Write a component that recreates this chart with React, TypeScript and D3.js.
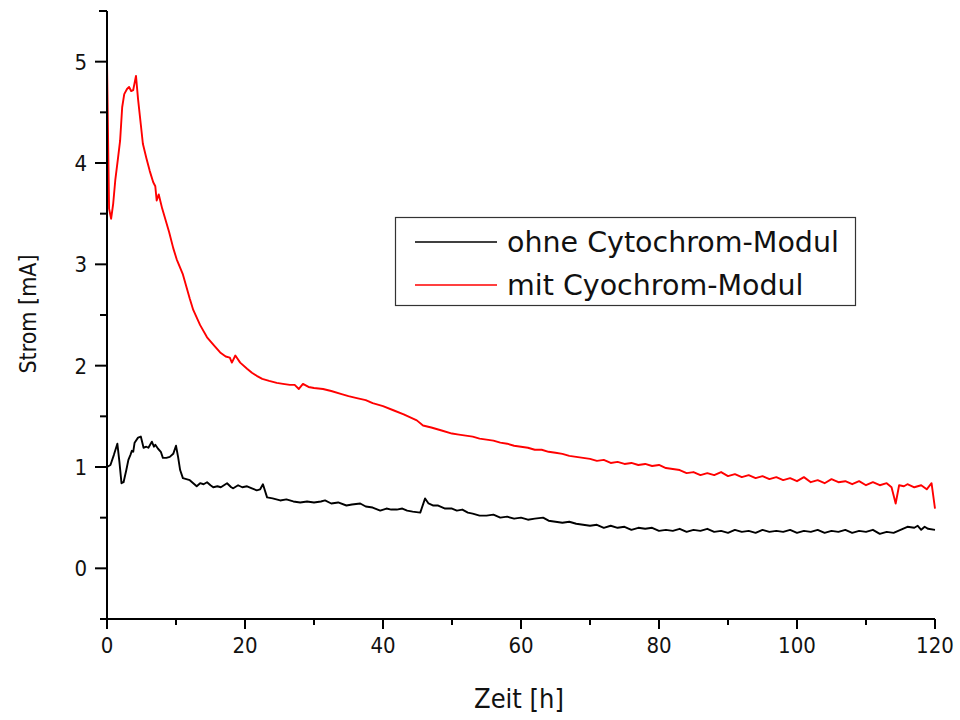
import React from "react";
import * as d3 from "d3";

const xTicks = [0, 20, 40, 60, 80, 100, 120];
const yTicks = [0, 1, 2, 3, 4, 5];
const seriesNames = ["ohne Cytochrom-Modul", "mit Cyochrom-Modul"];
const seriesColors = ["#000000", "#ff0000"];

const redT = [0, 0.3, 0.6, 0.9, 1.2, 1.6, 1.9, 2.2, 2.5, 2.9, 3.2, 3.5, 3.8, 4.2, 4.5, 4.9, 5.2, 5.7, 6.2, 6.7, 7.0, 7.2, 7.5, 8.0, 9.0, 9.6, 10.1, 11, 12, 12.5, 13.5, 14.5, 15.5, 16.4, 17.2, 17.8, 18.1, 18.6, 19.3, 20.3, 21, 21.7, 22.5, 23.5, 24.6, 25.5, 26.5, 27.2, 27.8, 28.4, 29.2, 30, 31.3, 32.5, 34, 35, 36.2, 37.5, 38.5, 40, 41.5, 43, 44.9, 45.8, 47, 48.5, 50, 51, 52, 53, 54, 55, 56, 57, 58, 59, 60, 61, 62, 63, 64, 65, 66, 67, 68, 69, 70, 71, 72, 73, 74, 75, 76, 77, 78, 79, 80, 81, 82, 83, 84, 85, 86, 87, 88, 89, 90, 91, 92, 93, 94, 95, 96, 97, 98, 99, 100, 101, 102, 103, 104, 105, 106, 107, 108, 109, 110, 111, 112, 113, 113.7, 114.3, 114.8, 115.5, 116, 117, 118, 118.8, 119.5, 120];
const redV = [5.0, 3.55, 3.45, 3.6, 3.83, 4.05, 4.22, 4.55, 4.68, 4.73, 4.75, 4.71, 4.72, 4.86, 4.63, 4.38, 4.19, 4.05, 3.92, 3.81, 3.77, 3.63, 3.69, 3.55, 3.32, 3.16, 3.05, 2.9, 2.66, 2.55, 2.4, 2.28, 2.2, 2.13, 2.09, 2.08, 2.03, 2.1, 2.03, 1.97, 1.93, 1.9, 1.87, 1.85, 1.83, 1.82, 1.81, 1.81, 1.77, 1.82, 1.79, 1.78, 1.77, 1.75, 1.72, 1.7, 1.68, 1.66, 1.63, 1.6, 1.56, 1.52, 1.46, 1.41, 1.39, 1.36, 1.33, 1.32, 1.31, 1.3, 1.28, 1.27, 1.26, 1.24, 1.23, 1.21, 1.2, 1.19, 1.17, 1.17, 1.15, 1.14, 1.13, 1.11, 1.1, 1.09, 1.08, 1.06, 1.07, 1.04, 1.05, 1.03, 1.04, 1.02, 1.03, 1.01, 1.02, 0.99, 0.98, 0.97, 0.94, 0.95, 0.92, 0.94, 0.92, 0.95, 0.91, 0.93, 0.9, 0.92, 0.89, 0.91, 0.88, 0.9, 0.87, 0.89, 0.86, 0.9, 0.85, 0.87, 0.84, 0.88, 0.85, 0.86, 0.83, 0.86, 0.82, 0.85, 0.82, 0.84, 0.8, 0.64, 0.82, 0.81, 0.83, 0.8, 0.82, 0.78, 0.84, 0.59];

const blackT = [0, 0.5, 1.0, 1.5, 1.8, 2.1, 2.4, 2.8, 3.1, 3.4, 3.6, 3.8, 4.0, 4.5, 4.9, 5.3, 5.7, 6.0, 6.5, 6.8, 7.0, 7.4, 7.8, 8.1, 8.6, 9.1, 9.6, 10.0, 10.3, 10.6, 11.0, 11.5, 12.0, 12.5, 13.0, 13.5, 14.0, 14.5, 15.0, 15.4, 16.0, 16.5, 17.4, 18.0, 18.3, 19.0, 19.6, 20.3, 21.0, 21.7, 22.2, 22.6, 23.2, 24, 25.1, 26, 27, 28, 29, 30, 31, 31.6, 32.5, 33.5, 34.7, 35.5, 36.7, 37.5, 38.5, 39.6, 40.5, 41.2, 42, 42.8, 43.5, 44.3, 45.4, 46.1, 46.6, 47.3, 48, 49, 50, 50.7, 51.5, 52.3, 53, 54, 55, 56, 57, 58, 59, 60, 61, 62, 63.2, 64, 65, 66, 67, 68, 69, 70, 71, 72, 73, 74, 75, 76, 77, 78, 79, 80, 81, 82, 83, 84, 85, 86, 87, 88, 89, 90, 91, 92, 93, 94, 95, 96, 97, 98, 99, 100, 101, 102, 103, 104, 105, 106, 107, 108, 109, 110, 111, 112, 113, 114, 115, 116, 117, 117.5, 118, 118.5, 119, 120];
const blackV = [1.0, 1.02, 1.12, 1.23, 1.05, 0.84, 0.85, 0.97, 1.07, 1.12, 1.16, 1.15, 1.24, 1.29, 1.3, 1.19, 1.2, 1.19, 1.25, 1.2, 1.22, 1.18, 1.15, 1.09, 1.09, 1.1, 1.13, 1.21, 1.1, 0.97, 0.89, 0.88, 0.87, 0.84, 0.81, 0.84, 0.83, 0.85, 0.82, 0.8, 0.81, 0.8, 0.84, 0.8, 0.79, 0.82, 0.8, 0.81, 0.79, 0.77, 0.78, 0.83, 0.7, 0.69, 0.67, 0.68, 0.66, 0.65, 0.66, 0.65, 0.66, 0.67, 0.64, 0.65, 0.62, 0.63, 0.64, 0.61, 0.6, 0.57, 0.59, 0.58, 0.58, 0.59, 0.57, 0.56, 0.55, 0.69, 0.64, 0.62, 0.62, 0.59, 0.59, 0.57, 0.58, 0.55, 0.54, 0.52, 0.52, 0.53, 0.5, 0.51, 0.49, 0.5, 0.48, 0.49, 0.5, 0.47, 0.46, 0.45, 0.46, 0.44, 0.43, 0.42, 0.43, 0.4, 0.42, 0.4, 0.41, 0.38, 0.4, 0.39, 0.4, 0.37, 0.38, 0.37, 0.39, 0.36, 0.38, 0.37, 0.39, 0.36, 0.37, 0.35, 0.38, 0.36, 0.37, 0.35, 0.38, 0.36, 0.37, 0.36, 0.38, 0.35, 0.37, 0.36, 0.38, 0.35, 0.37, 0.36, 0.38, 0.35, 0.37, 0.36, 0.38, 0.34, 0.36, 0.35, 0.38, 0.41, 0.4, 0.42, 0.38, 0.41, 0.39, 0.38];

const FONT = "'DejaVu Sans Condensed', 'DejaVu Sans', sans-serif";
const FONT_WIDE = "'DejaVu Sans', sans-serif";

export default function App() {
  const x = d3.scaleLinear().domain([0, 120]).range([107, 935]);
  const y = d3.scaleLinear().domain([-0.5, 5.5]).range([619, 11]);
  const line = d3
    .line<[number, number]>()
    .x((d) => x(d[0]))
    .y((d) => y(d[1]));
  const black: [number, number][] = blackT.map((t, i) => [t, blackV[i]]);
  const red: [number, number][] = redT.map((t, i) => [t, redV[i]]);
  const minorX = d3.range(0, 121, 10).filter((v) => v % 20 !== 0);
  const minorY = d3.range(-0.5, 5.51, 0.5).filter((v) => Math.abs(v - Math.round(v)) > 0.1);
  const x0 = x(0);
  const yb = y(-0.5);

  return (
    <svg
      width={960}
      height={720}
      style={{ position: "absolute", left: 0, top: 0, background: "#fff" }}
      fontFamily={FONT}
    >
      <rect width={960} height={720} fill="#fff" />
      {/* data */}
      <path d={line(black) || ""} fill="none" stroke={seriesColors[0]} strokeWidth={1.9} strokeLinejoin="round" />
      <path d={line(red) || ""} fill="none" stroke={seriesColors[1]} strokeWidth={1.9} strokeLinejoin="round" />
      {/* axes */}
      <line x1={x0} x2={x0} y1={y(5.5)} y2={yb} stroke="#000" strokeWidth={2} />
      <line x1={x0} x2={x(120)} y1={yb} y2={yb} stroke="#000" strokeWidth={2} />
      <line x1={x0 - 8} x2={x0} y1={y(5.5)} y2={y(5.5)} stroke="#000" strokeWidth={2} />
      {yTicks.map((v) => (
        <g key={"y" + v}>
          <line x1={x0 - 12} x2={x0} y1={y(v)} y2={y(v)} stroke="#000" strokeWidth={2} />
          <text x={x0 - 20} y={y(v)} dy="0.36em" textAnchor="end" fontSize={22} fill="#111">
            {v}
          </text>
        </g>
      ))}
      {minorY.map((v) => (
        <line key={"my" + v} x1={x0 - 7} x2={x0} y1={y(v)} y2={y(v)} stroke="#000" strokeWidth={2} />
      ))}
      {xTicks.map((v) => (
        <g key={"x" + v}>
          <line x1={x(v)} x2={x(v)} y1={yb} y2={yb + 10} stroke="#000" strokeWidth={2} />
          <text x={x(v)} y={yb + 34} textAnchor="middle" fontSize={22} fill="#111">
            {v}
          </text>
        </g>
      ))}
      {minorX.map((v) => (
        <line key={"mx" + v} x1={x(v)} x2={x(v)} y1={yb} y2={yb + 6} stroke="#000" strokeWidth={2} />
      ))}
      <text x={519} y={708} textAnchor="middle" fontSize={27} fill="#111">
        Zeit [h]
      </text>
      <text transform="translate(36,314) rotate(-90)" textAnchor="middle" fontSize={23} fill="#111">
        Strom [mA]
      </text>
      {/* legend */}
      <rect x={395.5} y={217.5} width={460} height={88} fill="#fff" stroke="#333" strokeWidth={1.2} />
      {seriesNames.map((name, i) => (
        <g key={name}>
          <line x1={415} x2={497} y1={242 + i * 43} y2={242 + i * 43} stroke={seriesColors[i]} strokeWidth={1.5} />
          <text x={507} y={242 + i * 43} dy="0.35em" fontSize={28.5} fontFamily={FONT_WIDE} fill="#111">
            {name}
          </text>
        </g>
      ))}
    </svg>
  );
}
